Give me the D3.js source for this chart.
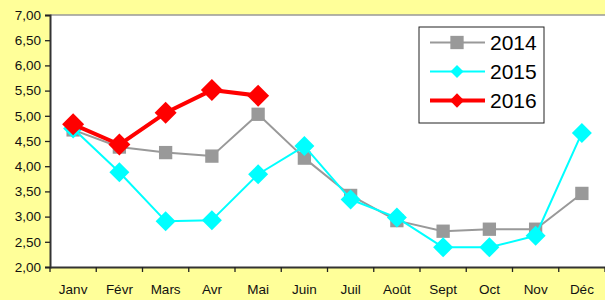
<!DOCTYPE html>
<html>
<head>
<meta charset="utf-8">
<script src="https://cdn.jsdelivr.net/npm/d3@7"></script>
<style>
body { margin: 0; background: #ffff99; }
svg { display: block; font-family: "Liberation Sans", Arial, sans-serif; }
</style>
</head>
<body>
<div id="chart-area"></div>
<script>
var months = ["Janv","Févr","Mars","Avr","Mai","Juin","Juil","Août","Sept","Oct","Nov","Déc"];
var values2014 = [4.72,4.38,4.27,4.20,5.03,4.16,3.42,2.92,2.71,2.75,2.75,3.46];
var values2015 = [4.75,3.88,2.91,2.93,3.84,4.40,3.34,2.98,2.39,2.39,2.62,4.66];
var values2016 = [4.83,4.43,5.06,5.51,5.40];
var yTicks = [2,2.5,3,3.5,4,4.5,5,5.5,6,6.5,7];

var total_width = 605, total_height = 300;
var margin = {top:15, right:0, bottom:33, left:50};
var width = total_width - margin.left - margin.right;
var height = total_height - margin.top - margin.bottom;

var svg = d3.select('#chart-area').append('svg')
            .attr("width", total_width)
            .attr("height", total_height);

svg.append("rect").attr("width", total_width).attr("height", total_height).attr("fill", "#ffff99");

var chart = svg.append('g')
               .attr("transform", "translate(" + margin.left + "," + margin.top + ")");

chart.append("rect").attr("width", width).attr("height", height).attr("fill", "#ffffff");
chart.append("line").attr("x1", 0).attr("x2", width).attr("y1", 0).attr("y2", 0)
     .attr("stroke", "#999").attr("stroke-width", 1.5);

var x = d3.scaleBand().domain(months).range([0, width]);
var y = d3.scaleLinear().domain([2, 7]).range([height, 0]);

var fmt = function(d){ return d3.format(".2f")(d).replace(".", ","); };

var yAxis = chart.append('g')
     .call(d3.axisLeft(y).tickValues(yTicks).tickFormat(fmt).tickSizeOuter(0).tickSize(5).tickPadding(4));
var xAxis = chart.append('g')
     .attr("transform", "translate(0," + height + ")")
     .call(d3.axisBottom(x).tickSize(0).tickPadding(17));

// boundary ticks between categories
var bounds = d3.range(months.length + 1).map(function(i){ return i * x.step(); });
xAxis.selectAll(".bound").data(bounds).enter().append("line")
     .attr("x1", function(d){ return d; }).attr("x2", function(d){ return d; })
     .attr("y1", 0).attr("y2", 5).attr("stroke", "#222").attr("stroke-width", 1.3);

[yAxis, xAxis].forEach(function(a){
  a.selectAll("path").attr("stroke", "#333").attr("stroke-width", 2);
  a.selectAll("line").attr("stroke", "#222").attr("stroke-width", 1.3);
  a.selectAll("text").attr("font-size", 13.5).attr("fill", "#111")
   .attr("font-family", "Liberation Sans, Arial, sans-serif");
});

var series = [
  {name:"2014", data: values2014, color:"#999999", width:2, shape:"square", size:14},
  {name:"2015", data: values2015, color:"#00ffff", width:2, shape:"diamond", size:20},
  {name:"2016", data: values2016, color:"#ff0000", width:4, shape:"diamond", size:22}
];

var line = d3.line()
    .x(function(d, i){ return x(months[i]) + x.bandwidth() / 2; })
    .y(function(d){ return y(d); });

function marker(g, s, cx, cy, scale) {
  var r = s.size / 2 * (scale || 1);
  if (s.shape === "square") {
    var h = r * 0.95;
    g.append("rect").attr("x", cx - h).attr("y", cy - h).attr("width", 2 * h).attr("height", 2 * h)
     .attr("fill", s.color);
  } else {
    g.append("path")
     .attr("d", "M" + cx + "," + (cy - r) + "L" + (cx + r) + "," + cy + "L" + cx + "," + (cy + r) + "L" + (cx - r) + "," + cy + "Z")
     .attr("fill", s.color);
  }
}

series.forEach(function(s){
  var g = chart.append("g");
  g.append("path").datum(s.data).attr("d", line)
   .attr("fill", "none").attr("stroke", s.color).attr("stroke-width", s.width)
   .attr("stroke-linejoin", "round");
  s.data.forEach(function(v, i){
    marker(g, s, x(months[i]) + x.bandwidth() / 2, y(v));
  });
});

// legend
var legend = svg.append("g").attr("transform", "translate(419,27)");
legend.append("rect").attr("width", 125).attr("height", 96)
      .attr("fill", "#fff").attr("stroke", "#222").attr("stroke-width", 1);
series.forEach(function(s, i){
  var ly = 15.5 + i * 29;
  legend.append("line").attr("x1", 11).attr("x2", 66).attr("y1", ly).attr("y2", ly)
        .attr("stroke", s.color).attr("stroke-width", s.width);
  marker(legend, s, 38, ly, s.shape === "square" ? 1 : 0.65);
  legend.append("text").attr("x", 71).attr("y", ly + 7.5)
        .attr("font-size", 21).attr("fill", "#000").text(s.name);
});
</script>
</body>
</html>
